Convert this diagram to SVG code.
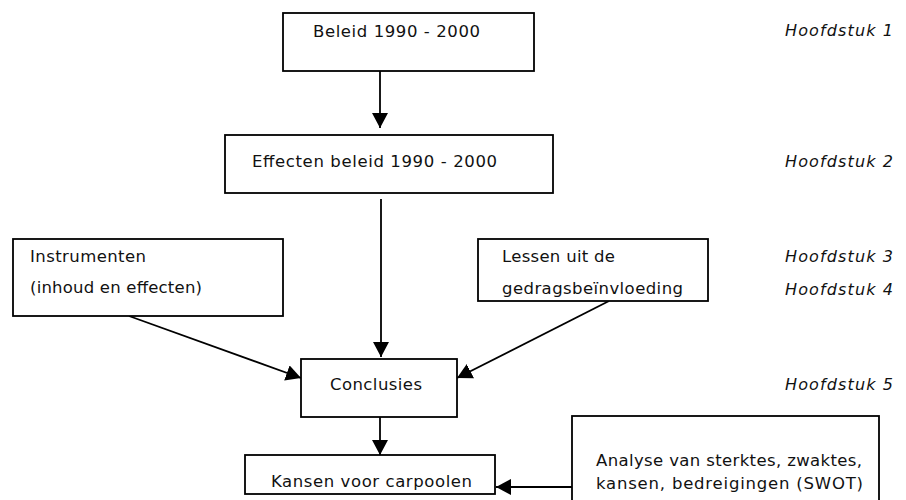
<svg xmlns="http://www.w3.org/2000/svg" width="906" height="500" viewBox="0 0 906 500">
<style>
.box{fill:#fff;stroke:#000;stroke-width:1.8}
.t{font-family:"DejaVu Sans","Liberation Sans",sans-serif;font-size:16.5px;fill:#111}
.h{font-family:"DejaVu Sans","Liberation Sans",sans-serif;font-size:16px;font-style:italic;fill:#111}
.c{stroke:#000;stroke-width:1.8;fill:none;marker-end:url(#ah)}
</style>
<defs>
<marker id="ah" markerUnits="userSpaceOnUse" markerWidth="18" markerHeight="18" refX="15" refY="8" orient="auto">
<path d="M0,0 L15,8 L0,16 z" fill="#000"/>
</marker>
</defs>
<rect width="906" height="500" fill="#fff"/>
<g id="connectors">
<line class="c" x1="380" y1="71" x2="380" y2="128"/>
<line class="c" x1="381" y1="199" x2="381" y2="357"/>
<line class="c" x1="129" y1="316" x2="301" y2="378"/>
<line class="c" x1="609" y1="301" x2="457" y2="378"/>
<line class="c" x1="380" y1="417" x2="380" y2="455"/>
<line class="c" x1="572" y1="487" x2="496" y2="487"/>
</g>
<g id="beleid">
<rect class="box" x="283" y="13" width="251" height="58"/>
<text class="t" x="313" y="37" textLength="167" lengthAdjust="spacing">Beleid 1990 - 2000</text>
</g>
<g id="effecten">
<rect class="box" x="225" y="135" width="328" height="58"/>
<text class="t" x="252" y="167" textLength="245" lengthAdjust="spacing">Effecten beleid 1990 - 2000</text>
</g>
<g id="instrumenten">
<rect class="box" x="13" y="239" width="270" height="77"/>
<text class="t" x="30" y="262" textLength="116" lengthAdjust="spacing">Instrumenten</text>
<text class="t" x="30" y="293" textLength="172" lengthAdjust="spacing">(inhoud en effecten)</text>
</g>
<g id="lessen">
<rect class="box" x="478" y="239" width="230" height="62"/>
<text class="t" x="502" y="262" textLength="113" lengthAdjust="spacing">Lessen uit de</text>
<text class="t" x="502" y="294" textLength="181" lengthAdjust="spacing">gedragsbeïnvloeding</text>
</g>
<g id="conclusies">
<rect class="box" x="301" y="359" width="156" height="58"/>
<text class="t" x="330" y="390" textLength="92" lengthAdjust="spacing">Conclusies</text>
</g>
<g id="kansen">
<rect class="box" x="245" y="455" width="250" height="39"/>
<text class="t" x="271" y="487" textLength="201" lengthAdjust="spacing">Kansen voor carpoolen</text>
</g>
<g id="swot">
<rect class="box" x="572" y="416" width="307" height="100"/>
<text class="t" x="596" y="466" textLength="266" lengthAdjust="spacing">Analyse van sterktes, zwaktes,</text>
<text class="t" x="596" y="489" textLength="267" lengthAdjust="spacing">kansen, bedreigingen (SWOT)</text>
</g>
<g id="hoofdstukken">
<text class="h" x="785" y="36" textLength="108" lengthAdjust="spacing">Hoofdstuk 1</text>
<text class="h" x="785" y="167" textLength="108" lengthAdjust="spacing">Hoofdstuk 2</text>
<text class="h" x="785" y="262" textLength="108" lengthAdjust="spacing">Hoofdstuk 3</text>
<text class="h" x="785" y="295" textLength="108" lengthAdjust="spacing">Hoofdstuk 4</text>
<text class="h" x="785" y="390" textLength="108" lengthAdjust="spacing">Hoofdstuk 5</text>
</g>
</svg>
